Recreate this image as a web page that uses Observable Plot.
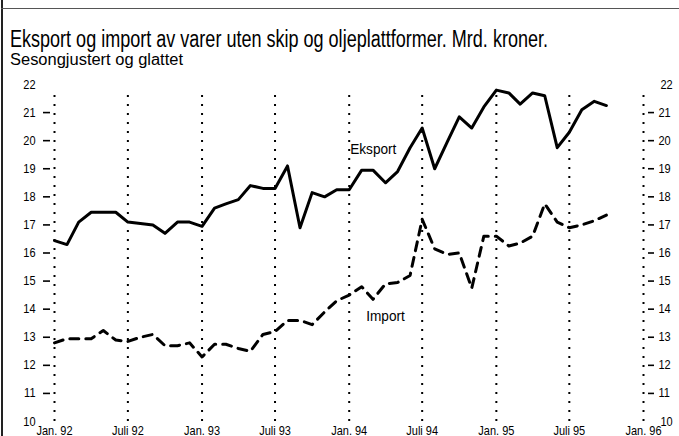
<!DOCTYPE html>
<html><head><meta charset="utf-8">
<script src="https://cdn.jsdelivr.net/npm/d3@7"></script>
<script src="https://cdn.jsdelivr.net/npm/@observablehq/plot@0.6"></script>
<style>
body{margin:0;background:#fff;}
#wrap{position:relative;width:679px;height:436px;overflow:hidden;background:#fff;font-family:"Liberation Sans Narrow","Arial Narrow","Liberation Sans",Arial,sans-serif;color:#000;}
.t{position:absolute;white-space:nowrap;transform-origin:0 0;display:inline-block;}
#title{left:10px;top:29px;font-size:23px;line-height:21px;}
#subtitle{left:10px;top:52px;font-size:16px;line-height:15px;}
#chart{position:absolute;left:0;top:70px;}
#frameL{position:absolute;left:1px;top:0;width:1.5px;height:436px;background:#222;}
#frameT{position:absolute;left:1px;top:8px;right:0;height:1px;background:#555;}
</style>
</head><body>
<div id="wrap">
  <div id="frameL"></div><div id="frameT"></div>
  <span class="t" id="title">Eksport og import av varer uten skip og oljeplattformer. Mrd. kroner.</span>
  <span class="t" id="subtitle">Sesongjustert og glattet</span>
  <div id="chart"></div>
</div>
<script>
// Monthly values, January 1992 - October 1995 (Mrd. kroner)
const startMonth = "1992-01";
const eksport = [
  16.44, 16.3, 17.1, 17.45, 17.45, 17.45, 17.1, 17.05, 17.0, 16.7, 17.1, 17.1,
  16.95, 17.6, 17.75, 17.9, 18.4, 18.3, 18.3, 19.1, 16.9, 18.15, 18.0, 18.25,
  18.25, 18.95, 18.95, 18.5, 18.9, 19.75, 20.45, 19.0, 19.95, 20.85, 20.45, 21.2,
  21.8, 21.7, 21.3, 21.7, 21.6, 19.75, 20.3, 21.1, 21.4, 21.25
];
const importVals = [
  12.8, 12.95, 12.95, 12.95, 13.24, 12.9, 12.85, 13.0, 13.1, 12.7, 12.7, 12.8,
  12.3, 12.75, 12.75, 12.6, 12.5, 13.1, 13.2, 13.6, 13.6, 13.45, 13.9, 14.3,
  14.5, 14.8, 14.35, 14.9, 14.95, 15.2, 17.2, 16.15, 15.95, 16.0, 14.75, 16.6,
  16.6, 16.25, 16.35, 16.6, 17.75, 17.1, 16.9, 17.0, 17.15, 17.35
];
const xTickDates = ["1992-01","1992-07","1993-01","1993-07","1994-01","1994-07","1995-01","1995-07","1996-01"];
const xTickLabels = ["Jan. 92","Juli 92","Jan. 93","Juli 93","Jan. 94","Juli 94","Jan. 95","Juli 95","Jan. 96"];
const yTicksDash = [11,12,13,14,15,16,17,18,19,20,21];
const yTicksEnds = [10,22];
const seriesLabels = ["Eksport", "Import"];
const seriesLabelMonths = ["1994-01", "1994-01"];
const seriesLabelValues = [19.7, 13.75];

const parse = d3.utcParse("%Y-%m");
const m0 = parse(startMonth);
const monthAt = i => d3.utcMonth.offset(m0, i);
const expData = eksport.map((v,i)=>({date:monthAt(i), value:v}));
const impData = importVals.map((v,i)=>({date:monthAt(i), value:v}));
const tickDates = xTickDates.map(parse);
const labelOf = new Map(tickDates.map((d,i)=>[+d, xTickLabels[i]]));
const lab = seriesLabels.map((n,i)=>({name:n, date:parse(seriesLabelMonths[i]), value:seriesLabelValues[i]}));

const font = '"Liberation Sans Narrow","Arial Narrow","Liberation Sans",Arial,sans-serif';
const chart = Plot.plot({
  width: 679, height: 366,
  marginLeft: 54, marginRight: 36, marginTop: 14, marginBottom: 15,
  style: {fontFamily: font, fontSize: "12px", color: "#000", background: "transparent", overflow: "visible"},
  x: {type: "utc", domain: [tickDates[0], tickDates[tickDates.length-1]]},
  y: {domain: [10, 22]},
  marks: [
    Plot.ruleX(tickDates, {x: d=>d, y1: 10, y2: 22, stroke: "#000", strokeWidth: 2, strokeDasharray: "2,7", insetBottom: -4}),
    Plot.axisX(tickDates, {tickSize: 0, tickPadding: 5, tickFormat: d=>labelOf.get(+d), fontSize: 12.5}),
    Plot.axisY(yTicksDash, {anchor: "left", tickSize: 7, tickPadding: 8, dx: -4, strokeWidth: 1.6, label: null, fontSize: 12.5}),
    Plot.axisY(yTicksEnds, {anchor: "left", tickSize: 0, tickPadding: 15, dx: -4, label: null, fontSize: 12.5}),
    Plot.axisY(yTicksDash, {anchor: "right", tickSize: 6, tickPadding: 5, dx: 4, strokeWidth: 1.6, label: null, fontSize: 12.5}),
    Plot.axisY(yTicksEnds, {anchor: "right", tickSize: 0, tickPadding: 13, dx: 4, label: null, fontSize: 12.5}),
    Plot.lineY(impData, {x: "date", y: "value", stroke: "#000", strokeWidth: 3, strokeDasharray: "9,7"}),
    Plot.lineY(expData, {x: "date", y: "value", stroke: "#000", strokeWidth: 3}),
    Plot.text(lab, {x: "date", y: "value", text: "name", textAnchor: "start", fontSize: 15.5, fill: "#000"})
  ]
});
document.getElementById("chart").appendChild(chart);
// condense all chart texts; offset the Import label
chart.querySelectorAll("text").forEach(t=>{
  let tr = t.getAttribute("transform") || "";
  if (t.textContent === "Import") tr += " translate(17,0)";
  else if (t.textContent === "Eksport") tr += " translate(1,0)";
  t.setAttribute("transform", tr + " scale(0.88,1)");
});
function fit(id, w){ const el=document.getElementById(id); const r=el.getBoundingClientRect().width; el.style.transform=`scaleX(${w/r})`; }
fit("title", 538);
fit("subtitle", 173);
</script>
</body></html>
